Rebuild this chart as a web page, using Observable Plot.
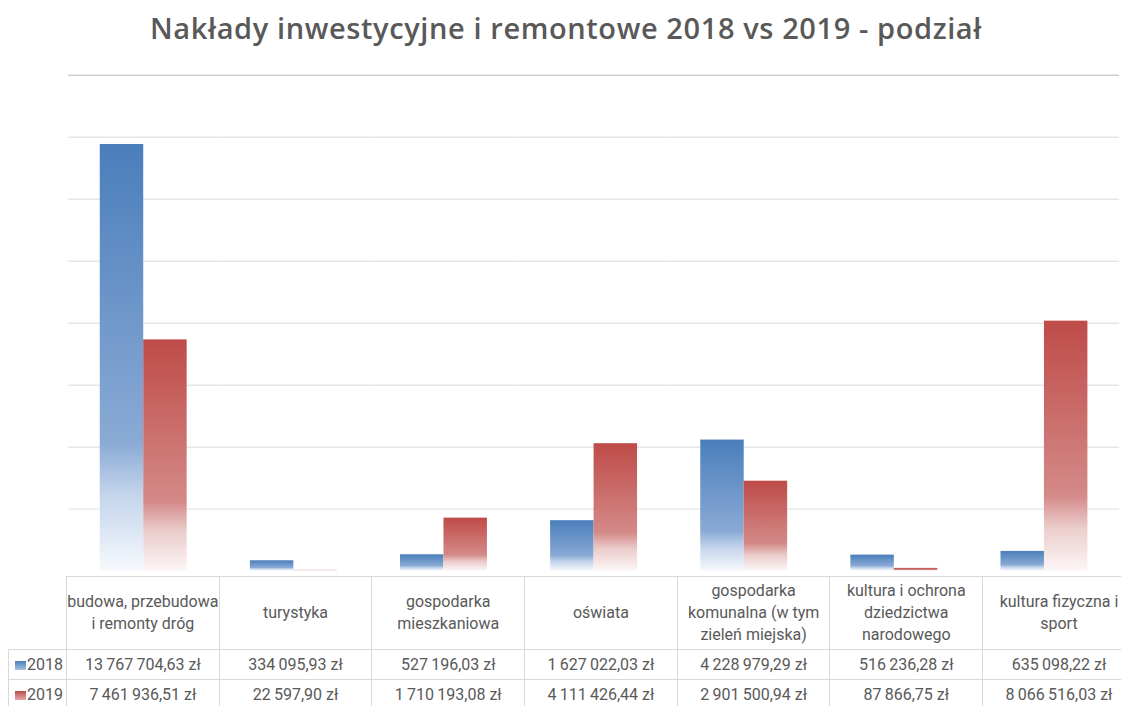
<!DOCTYPE html>
<html>
<head>
<meta charset="utf-8">
<script src="https://cdn.jsdelivr.net/npm/d3@7"></script>
<script src="https://cdn.jsdelivr.net/npm/@observablehq/plot@0.6"></script>
<style>
  html, body { margin: 0; padding: 0; background: #fff; }
  body { width: 1121px; height: 706px; overflow: hidden; position: relative; font-family: Roboto, sans-serif; }
  #title { position: absolute; top: 8px; left: 10px; width: 1112px; text-align: center;
    font-family: "Open Sans", sans-serif; font-weight: 600; font-size: 29px; color: #595959; letter-spacing: 0.6px; }
  #chart { position: absolute; top: 60px; left: 0; line-height: 0; }
  #chart svg { display: block; }
  #table { position: absolute; top: 576px; left: 8px; border-collapse: collapse; table-layout: fixed;
    font-family: Roboto, sans-serif; font-size: 16px; color: #595959; }
  #table td { border: 1.5px solid #d9d9d9; text-align: center; padding: 0; white-space: nowrap; }
  #table tr.head td { height: 72px; line-height: 22px; white-space: normal; }
  #table tr.head td.corner { border: none; border-bottom: 1.5px solid #d9d9d9; border-right: 1.5px solid #d9d9d9; }
  #table tr.val td { height: 29px; }
  #table td.leg { text-align: left; padding-left: 6px; }
  .mk { display: inline-block; width: 11px; height: 9px; margin-right: 1px; vertical-align: 0px; }
</style>
</head>
<body>
<svg width="0" height="0" style="position:absolute">
  <defs>
    <linearGradient id="g2018" x1="0" y1="0" x2="0" y2="1">
      <stop offset="0" stop-color="#4a7ebb"/>
      <stop offset="0.70" stop-color="#8aaad5"/>
      <stop offset="0.82" stop-color="#c3d4eb"/>
      <stop offset="1" stop-color="#f6f9fd"/>
    </linearGradient>
    <linearGradient id="g2019" x1="0" y1="0" x2="0" y2="1">
      <stop offset="0" stop-color="#be4b48"/>
      <stop offset="0.70" stop-color="#d48a88"/>
      <stop offset="0.83" stop-color="#ebcdcc"/>
      <stop offset="1" stop-color="#fcf6f6"/>
    </linearGradient>
  </defs>
</svg>
<div id="title">Nakłady inwestycyjne i remontowe 2018 vs 2019 - podział</div>
<div id="chart"></div>
<table id="table"></table>
<script>
const title = "Nakłady inwestycyjne i remontowe 2018 vs 2019 - podział";
const categories = [
  "budowa, przebudowa i remonty dróg",
  "turystyka",
  "gospodarka mieszkaniowa",
  "oświata",
  "gospodarka komunalna (w tym zieleń miejska)",
  "kultura i ochrona dziedzictwa narodowego",
  "kultura fizyczna i sport"
];
const years = ["2018", "2019"];
const values2018 = [13767704.63, 334095.93, 527196.03, 1627022.03, 4228979.29, 516236.28, 635098.22];
const values2019 = [7461936.51, 22597.90, 1710193.08, 4111426.44, 2901500.94, 87866.75, 8066516.03];
const yTicks = [2e6, 4e6, 6e6, 8e6, 10e6, 12e6, 14e6, 16e6];

const data = [];
categories.forEach((c, i) => {
  data.push({category: c, year: "2018", value: values2018[i]});
  data.push({category: c, year: "2019", value: values2019[i]});
});

const plot = Plot.plot({
  width: 1135,
  height: 517,
  marginTop: 15,
  marginBottom: 0,
  marginLeft: 66,
  marginRight: 0,
  fx: {domain: categories, padding: 0, axis: null},
  x: {domain: years, paddingInner: 0, paddingOuter: 0.72, axis: null},
  y: {domain: [0, 16e6], range: [517, 15], axis: null},
  marks: [
    Plot.ruleY(yTicks, {stroke: d => d === 16e6 ? "#cfcfcf" : "#e6e6e6", strokeWidth: 1.5}),
    Plot.barY(data.filter(d => d.year === "2018"), {fx: "category", x: "year", y: "value", fill: "url(#g2018)"}),
    Plot.barY(data.filter(d => d.year === "2019"), {fx: "category", x: "year", y: "value", fill: "url(#g2019)"})
  ]
});
document.getElementById("chart").appendChild(plot);

// data table
const loc = d3.formatLocale({decimal: ",", thousands: "\u2009", grouping: [3], currency: ["", " zł"]});
const fmt = loc.format("$,.2f");
const colW = 152.7;
const table = d3.select("#table");
const cg = table.append("colgroup");
cg.append("col").style("width", "58px");
categories.forEach(() => cg.append("col").style("width", colW + "px"));
table.style("width", (58 + colW * categories.length) + "px");
const head = table.append("tr").attr("class", "head");
head.append("td").attr("class", "corner");
const headLines = {
  "budowa, przebudowa i remonty dróg": "budowa, przebudowa<br>i remonty dróg",
  "gospodarka mieszkaniowa": "gospodarka<br>mieszkaniowa",
  "gospodarka komunalna (w tym zieleń miejska)": "gospodarka<br>komunalna (w tym<br>zieleń miejska)",
  "kultura i ochrona dziedzictwa narodowego": "kultura i ochrona<br>dziedzictwa<br>narodowego",
  "kultura fizyczna i sport": "kultura fizyczna i<br>sport"
};
categories.forEach(c => head.append("td").html(headLines[c] || c));
[[years[0], values2018, "linear-gradient(#4a7ebb,#a9c1e2)"], [years[1], values2019, "linear-gradient(#be4b48,#e3a9a8)"]].forEach(([y, vals, grad]) => {
  const tr = table.append("tr").attr("class", "val");
  const td = tr.append("td").attr("class", "leg");
  td.append("span").attr("class", "mk").style("background", grad);
  td.append("span").text(y);
  vals.forEach(v => tr.append("td").text(fmt(v)));
});
</script>
</body>
</html>
